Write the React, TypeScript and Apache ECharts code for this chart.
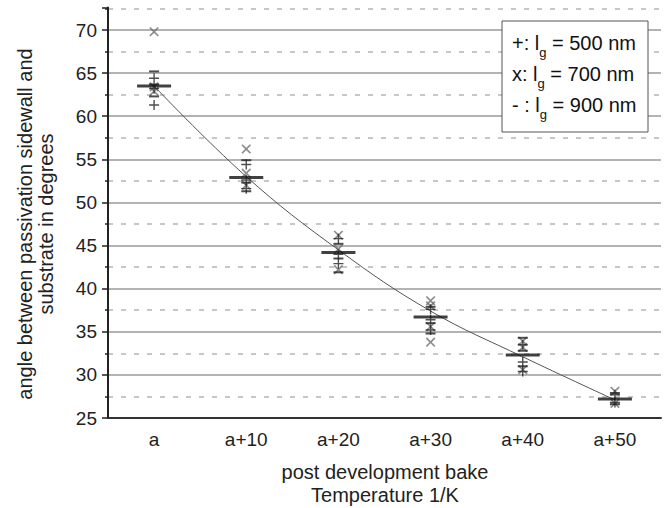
import React, { useEffect, useRef } from 'react';
import * as echarts from 'echarts';

const categories = ['a', 'a+10', 'a+20', 'a+30', 'a+40', 'a+50'];

// l_g = 500 nm ("+")
const plus500: [number, number][] = [
  [0, 64.4], [0, 63.2], [0, 61.3],
  [1, 54.4], [1, 52.6], [1, 51.6],
  [2, 45.8], [2, 44.0], [2, 42.9],
  [3, 37.6], [3, 36.4], [3, 35.2],
  [4, 33.5], [4, 31.5], [4, 30.4],
  [5, 27.7], [5, 26.8],
];
// l_g = 700 nm ("x")
const cross700: [number, number][] = [
  [0, 69.8], [0, 63.4], [0, 62.9],
  [1, 56.2], [1, 53.4], [1, 52.0],
  [2, 46.2], [2, 44.6], [2, 42.2],
  [3, 38.6], [3, 38.0], [3, 35.6], [3, 33.8],
  [4, 33.9], [4, 33.2], [4, 30.6],
  [5, 28.1], [5, 26.7],
];
// l_g = 900 nm ("-")
const dash900: [number, number][] = [
  [0, 65.2], [0, 63.7], [0, 62.3],
  [1, 54.9], [1, 52.3], [1, 51.3],
  [2, 45.2], [2, 43.5], [2, 41.9],
  [3, 37.9], [3, 36.0], [3, 34.8],
  [4, 34.3], [4, 32.8], [4, 31.0],
  [5, 27.9], [5, 26.6],
];
const meanValues = [63.5, 52.9, 44.2, 36.7, 32.3, 27.2];
const fitValues = [63.5, 53.0, 44.5, 37.4, 32.1, 27.1];

const legendLines = [
  { mark: '+: l', rest: ' = 500 nm' },
  { mark: 'x: l', rest: ' = 700 nm' },
  { mark: '- : l', rest: ' = 900 nm' },
];

const FONT = '"Liberation Sans", Arial, sans-serif';
const PLUS = 'path://M4.3,0H5.7V4.3H10V5.7H5.7V10H4.3V5.7H0V4.3H4.3Z';

export default function App() {
  const ref = useRef<HTMLDivElement>(null);
  useEffect(() => {
    if (!ref.current) return;
    const chart = echarts.init(ref.current, undefined, { renderer: 'svg' });
    const legendGraphics: any[] = [
      {
        type: 'rect',
        shape: { x: 502, y: 21, width: 146, height: 111 },
        style: { fill: '#fff', stroke: '#555', lineWidth: 1 },
        z: 100,
      },
    ];
    legendLines.forEach((l, i) => {
      legendGraphics.push({
        type: 'text',
        x: 512,
        y: 43 + i * 31,
        z: 101,
        style: {
          text: `{n|${l.mark}}{s|g}{n|${l.rest}}`,
          verticalAlign: 'middle',
          align: 'left',
          rich: {
            n: { fontSize: 20, fontFamily: FONT, fill: '#111', lineHeight: 32, verticalAlign: 'middle' },
            s: { fontSize: 13, fontFamily: FONT, fill: '#111', lineHeight: 14, verticalAlign: 'bottom' },
          },
        },
      });
    });

    chart.setOption({
      animation: false,
      backgroundColor: '#fff',
      grid: { left: 108, right: 4, top: 7.6, bottom: 90, containLabel: false },
      xAxis: {
        type: 'category',
        data: categories,
        boundaryGap: true,
        axisLine: { lineStyle: { color: '#333', width: 2 } },
        axisTick: { alignWithLabel: true, length: 7, lineStyle: { color: '#333', width: 1.5 } },
        axisLabel: { color: '#222', fontSize: 19, fontFamily: FONT, margin: 12 },
        splitLine: { show: false },
      },
      yAxis: {
        type: 'value',
        min: 25,
        max: 72.6,
        interval: 5,
        axisLine: { show: true, lineStyle: { color: '#222', width: 2 } },
        axisTick: { show: true, length: 6, lineStyle: { color: '#222', width: 1.5 } },
        minorTick: { show: true, splitNumber: 2, length: 3, lineStyle: { color: '#222', width: 1.5 } },
        axisLabel: { color: '#222', fontSize: 19, fontFamily: FONT, margin: 11, showMaxLabel: false },
        splitLine: { show: true, showMinLine: false, showMaxLine: false, lineStyle: { color: '#9a9a9a', width: 1.5 } },
        minorSplitLine: { show: true, lineStyle: { color: '#b5b5b5', width: 1.5, type: [5, 8] } },
      },
      series: [
        {
          type: 'line',
          data: fitValues,
          smooth: 0.4,
          symbol: 'none',
          lineStyle: { color: '#555', width: 1 },
          z: 3,
        },
        {
          type: 'scatter',
          data: cross700,
          symbol: PLUS,
          symbolRotate: 45,
          symbolSize: 12,
          itemStyle: { color: '#707070' },
          z: 4,
        },
        {
          type: 'scatter',
          data: plus500,
          symbol: PLUS,
          symbolSize: 10,
          itemStyle: { color: '#222' },
          z: 5,
        },
        {
          type: 'scatter',
          data: dash900,
          symbol: 'rect',
          symbolSize: [10, 2],
          itemStyle: { color: '#222' },
          z: 5,
        },
        {
          type: 'scatter',
          data: meanValues.map((v, i) => [i, v]),
          symbol: 'rect',
          symbolSize: [34, 3],
          itemStyle: { color: '#111' },
          z: 6,
        },
      ],
      graphic: [
        {
          type: 'text',
          x: 35,
          y: 224,
          rotation: Math.PI / 2,
          style: {
            text: 'angle between passivation sidewall and\nsubstrate in degrees',
            fontSize: 20,
            fontFamily: FONT,
            fill: '#222',
            lineHeight: 21,
            align: 'center',
            verticalAlign: 'middle',
          },
        },
        {
          type: 'text',
          x: 385,
          y: 483.5,
          style: {
            text: 'post development bake\nTemperature 1/K',
            fontSize: 20,
            fontFamily: FONT,
            fill: '#222',
            lineHeight: 23,
            align: 'center',
            verticalAlign: 'middle',
          },
        },
        ...legendGraphics,
      ],
    });
    return () => chart.dispose();
  }, []);
  return <div ref={ref} style={{ width: 665, height: 508, position: 'absolute', left: 0, top: 0 }} />;
}
